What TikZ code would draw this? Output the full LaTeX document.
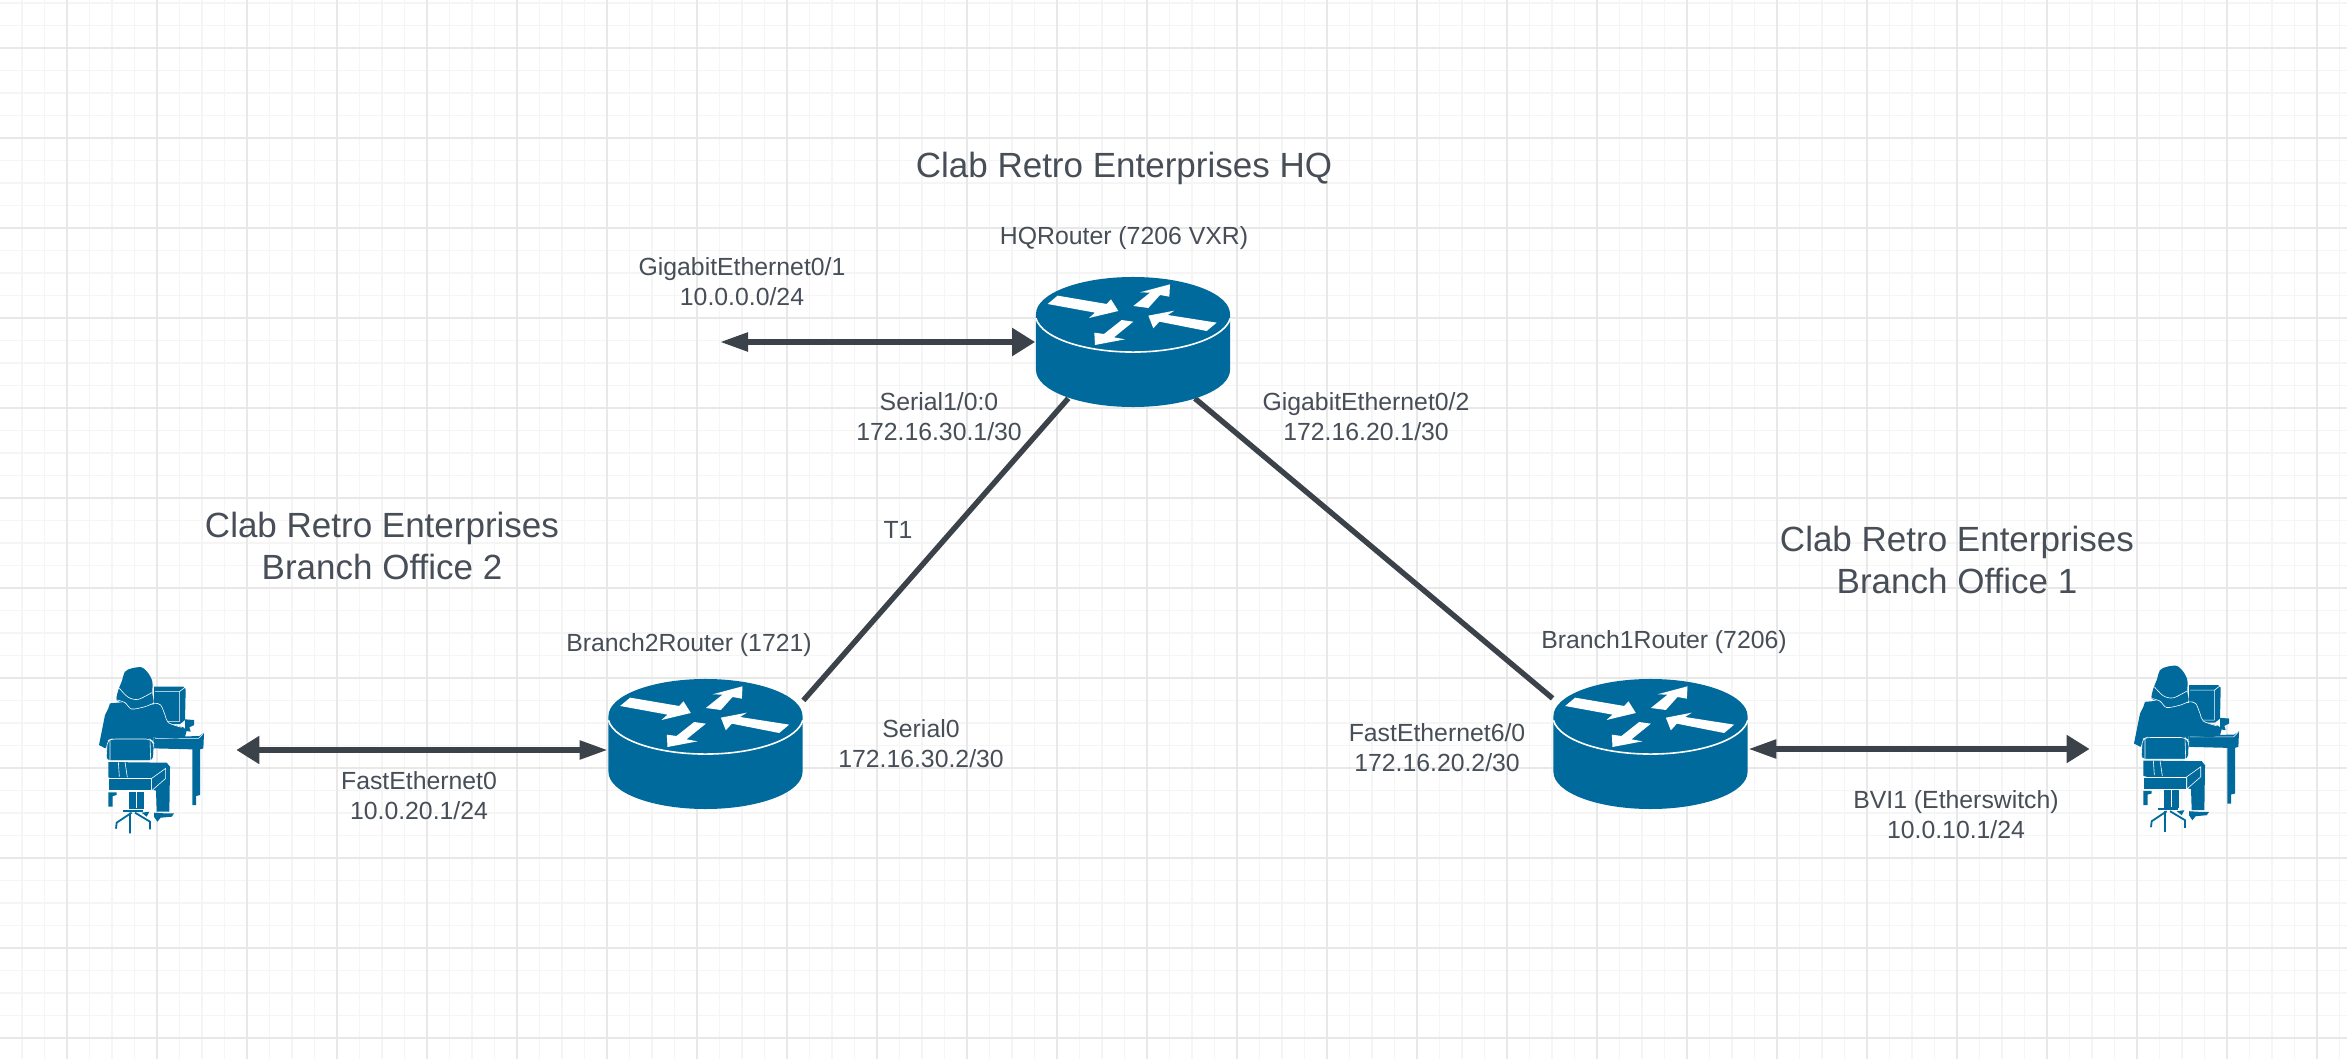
\documentclass[tikz,border=0pt]{standalone}
\usepackage{fontspec}
\setmainfont{Liberation Sans}
\usepackage{xcolor}
\usepackage{tikz}
\usetikzlibrary{arrows.meta,positioning}
\definecolor{ciscoblue}{HTML}{006A9C}
\definecolor{inkgrey}{HTML}{474E57}
\definecolor{gridminor}{HTML}{F5F5F5}
\definecolor{gridmajor}{HTML}{E8E8E8}
\newcommand{\lblfont}{\fontsize{12.4}{15}\selectfont}
\newcommand{\ttlfont}{\fontsize{17.5}{21}\selectfont}
\tikzset{
  slim/.tip={Triangle[length=14pt,width=9pt]},
  wide/.tip={Triangle[length=11.5pt,width=13.5pt]},
  pics/routericon/.style={code={
    % zoomed trace, 3 units to one pixel
    \begin{scope}[x=0.1667pt,y=-0.1667pt]
      \fill[ciscoblue] (-291,-84) -- (-291,84) arc[start angle=180,end angle=0,x radius=291,y radius=111] -- (291,-84) arc[start angle=0,end angle=-180,x radius=291,y radius=111] -- cycle;
      \draw[white,line width=0.8pt] (-291,-71) arc[start angle=174,end angle=6,x radius=293,y radius=113];
      \fill[white] (-256,-114) -- (-226,-139) -- (-79,-114) -- (-66,-128) -- (-44,-93) -- (-132,-72) -- (-114,-88) -- cycle;
      \fill[white] (1,-108) -- (51,-148) -- (21,-149) -- (111,-173) -- (109,-136) -- (81,-141) -- (46,-102) -- cycle;
      \fill[white] (46,-79) -- (124,-94) -- (104,-81) -- (251,-58) -- (221,-33) -- (79,-61) -- (61,-41) -- cycle;
      \fill[white] (-114,9) -- (-116,-28) -- (-87,-24) -- (-34,-66) -- (1,-61) -- (-57,-14) -- (-24,-8) -- cycle;
    \end{scope}}},
  pics/usericon/.style={code={
    % zoomed trace, origin at top left of the crop
    \begin{scope}[x=0.1667pt,y=-0.1667pt,ciscoblue]
      \fill (252,140) -- (340,140) -- (347,147) -- (345,240) -- (330,252) -- (252,252) -- cycle;
      \draw[white,line width=0.3pt] (255,155) -- (328,155) -- (328,245) -- (290,245) (328,155) -- (345,142);
      \fill (345,238) -- (372,240) -- (372,255) -- (358,262) -- (362,275) -- (345,272) -- cycle;
      \fill (250,292) -- (388,288) -- (402,278) -- (400,325) -- (390,328) -- (390,465) -- (378,468) -- (378,495) -- (367,495) -- (367,328) -- (250,325) -- cycle;
      \draw[white,line width=0.3pt] (255,295) -- (386,295) -- (400,280) (330,288) -- (350,278) -- (398,277);
      \fill (120,190) -- (165,186) -- (270,195) -- (285,225) -- (295,250) -- (340,262) -- (350,272) -- (345,290) -- (320,296) -- (250,292) -- (250,302) -- (120,302) -- (106,325) -- (87,315) -- (105,225) -- (115,205) -- cycle;
      \fill plot[smooth cycle] coordinates {(165,95) (185,85) (215,82) (235,100) (247,125) (247,160) (250,188) (225,200) (185,205) (165,190) (140,180) (145,150) (155,125)};
      \draw[white,line width=0.3pt] plot[smooth] coordinates {(148,145) (175,172) (205,178) (245,158)};
      \draw[white,line width=0.3pt] plot[smooth] coordinates {(142,180) (165,188) (185,207) (225,200) (252,190) (272,195) (285,225) (295,248) (335,262)};
      \fill[draw=white,line width=0.3pt,rounded corners=2pt] (108,362) -- (112,302) -- (125,297) -- (240,297) -- (252,310) -- (250,362) -- cycle;
      \draw[white,line width=0.3pt] (120,362) -- (120,302) (240,297) -- (242,362);
      \fill (115,366) -- (290,368) -- (300,380) -- (298,515) -- (260,515) -- (258,452) -- (115,412) -- cycle;
      \draw[white,line width=0.3pt] (145,366) -- (148,410) (165,366) -- (172,412);
      \fill[draw=white,line width=0.3pt] (115,415) -- (245,415) -- (245,452) -- (115,452) -- cycle;
      \fill[draw=white,line width=0.3pt] (245,415) -- (287,385) -- (287,415) -- (245,452) -- cycle;
      \fill (115,457) -- (140,457) -- (140,465) -- (128,468) -- (128,500) -- (115,500) -- cycle;
      \fill (178,455) -- (222,455) -- (222,508) -- (178,508) -- cycle;
      \draw[white,line width=0.3pt] (200,455) -- (200,505);
      \draw[line width=1.1pt] (160,512) -- (218,512);
      \draw[line width=0.9pt] (185,518) -- (140,548) -- (138,566) (180,518) -- (180,580) (195,518) -- (240,545) -- (240,568);
      \fill (215,518) -- (238,515) -- (230,530) -- cycle;
      \fill (252,518) -- (285,520) -- (312,520) -- (305,530) -- (272,533) -- (262,545) -- (252,530) -- cycle;
    \end{scope}}},
  link/.style={draw=inkgrey!85!black,line width=2.7pt},
  lbl/.style={text=inkgrey,align=center,inner sep=0pt,font=\lblfont},
  ttl/.style={text=inkgrey,align=center,inner sep=0pt,font=\ttlfont},
  router/.style={minimum width=97.5pt,minimum height=65pt,inner sep=0pt},
  person/.style={minimum width=72pt,minimum height=60pt,inner sep=0pt}
}
\begin{document}
\begin{tikzpicture}[x=0.5pt,y=-0.5pt]
  \useasboundingbox (0,0) rectangle (2347,1059);
  \fill[white] (0,0) rectangle (2347,1059);
  % grid, minor then major
  \foreach \i in {0,...,104} {\draw[gridminor,line width=0.55pt] (22+22.5*\i,0) -- (22+22.5*\i,1059);}
  \foreach \i in {0,...,46} {\draw[gridminor,line width=0.55pt] (0,3+22.5*\i) -- (2347,3+22.5*\i);}
  \foreach \i in {0,...,25} {\draw[gridmajor,line width=0.55pt] (67+90*\i,0) -- (67+90*\i,1059);}
  \foreach \i in {0,...,11} {\draw[gridmajor,line width=0.55pt] (0,48+90*\i) -- (2347,48+90*\i);}

  \node[router] (hq) at (1133,342) {};
  \node[router] (br2) at (705.5,744) {};
  \node[router] (br1) at (1650.5,744) {};
  \node[person] (user2) at (164,750) {};
  \node[person] (user1) at (2162,749) {};
  \coordinate (lan0) at (720,342);

  \draw[link,shorten <=-6pt] (hq.222.5) -- (br2.24.4);
  \draw[link,shorten <=-7pt] (hq.-42.5) -- (br1.155);
  \draw[link,slim-wide] (lan0) -- (hq.west);
  \draw[link,wide-slim] (user2.east) -- (user2.east -| br2.west);
  \draw[link,wide-slim] (user1.west) -- (user1.west -| br1.east);

  \pic at (hq) {routericon};
  \pic at (br2) {routericon};
  \pic at (br1) {routericon};
  \pic at (70,640) {usericon};
  \pic at (2105,638.5) {usericon};

  \node[ttl] (ttlhq) at (1124,168) {Clab Retro Enterprises HQ};
  \node[ttl] (ttlbr2) at (382,546) {Clab Retro Enterprises\\Branch Office 2};
  \node[ttl] (ttlbr1) at (1957,560) {Clab Retro Enterprises\\Branch Office 1};
  \node[lbl] (namehq) at (1124,238) {HQRouter (7206 VXR)};
  \node[lbl] (namebr2) at (689,645) {Branch2Router (1721)};
  \node[lbl] (namebr1) at (1664,642) {Branch1Router (7206)};
  \node[lbl] (giga1) at (742,282) {GigabitEthernet0/1\\10.0.0.0/24};
  \node[lbl] (ser10) at (939,417) {Serial1/0:0\\172.16.30.1/30};
  \node[lbl] (giga2) at (1366,417) {GigabitEthernet0/2\\172.16.20.1/30};
  \node[lbl] (t1) at (898,530) {T1};
  \node[lbl] (ser0) at (921,744) {Serial0\\172.16.30.2/30};
  \node[lbl] (fa0) at (419,796) {FastEthernet0\\10.0.20.1/24};
  \node[lbl] (fa60) at (1437,748) {FastEthernet6/0\\172.16.20.2/30};
  \node[lbl] (bvi) at (1956,815) {BVI1 (Etherswitch)\\10.0.10.1/24};
\end{tikzpicture}
\end{document}
